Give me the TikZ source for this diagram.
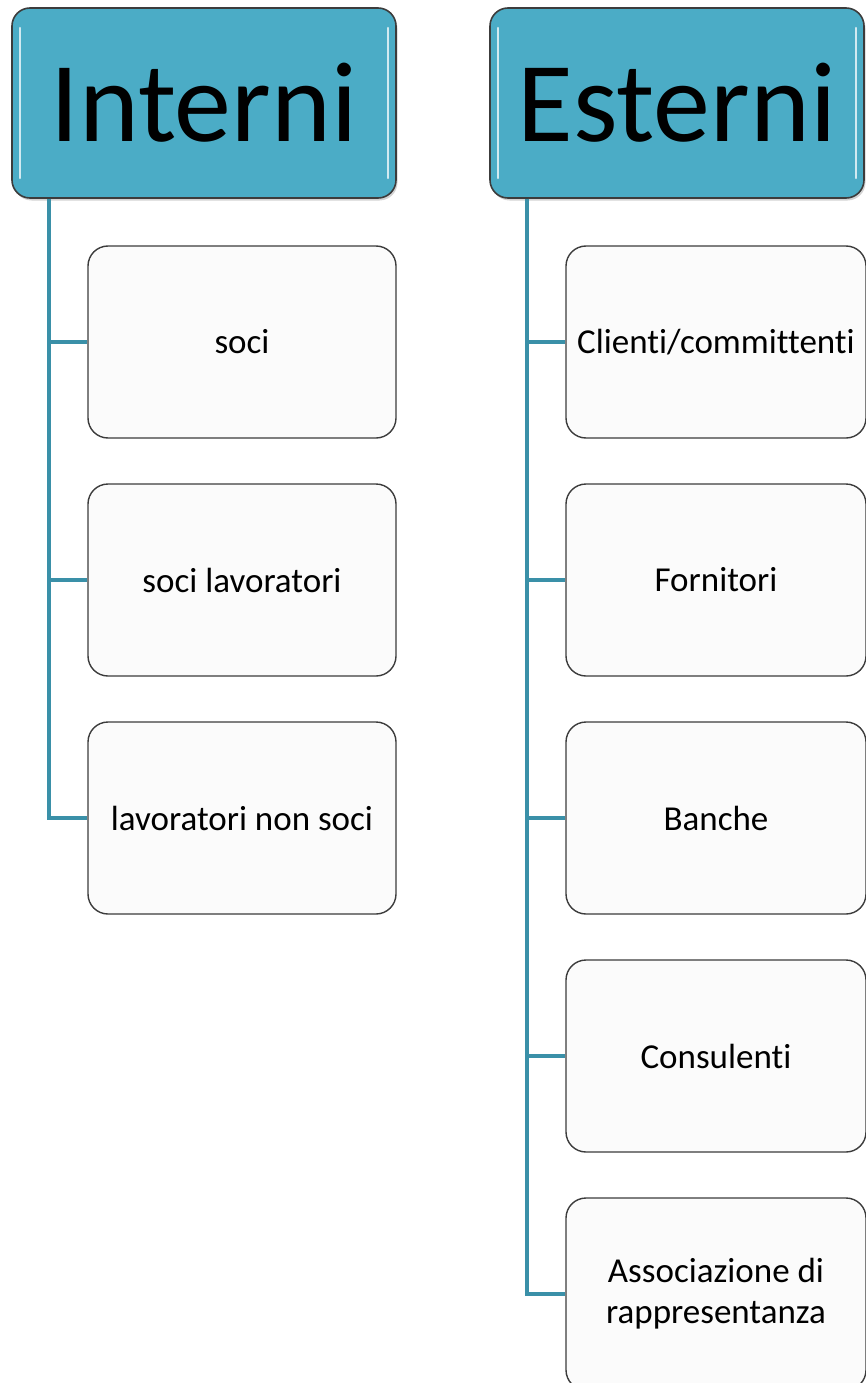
\documentclass[tikz,border=0pt]{standalone}
\usepackage{fontspec}
\setmainfont{Carlito}[Ligatures=NoCommon]
\usetikzlibrary{shadows}

\definecolor{headblue}{HTML}{4BACC6}
\definecolor{linkblue}{HTML}{3A90A8}
\definecolor{boxline}{HTML}{3C3C3C}
\definecolor{boxfill}{HTML}{FBFBFB}

\begin{document}
\begin{tikzpicture}[x=1pt,y=-1pt,
  head/.style={draw=boxline,line width=1.6pt,fill=headblue,rectangle,rounded corners=18pt,
    minimum height=190pt,inner sep=0pt,font=\fontsize{114}{120}\selectfont,
    drop shadow={shadow xshift=1.5pt,shadow yshift=-2.5pt,opacity=0.35},
    path picture={
      \draw[white!75!headblue,line width=2.5pt,line cap=round]
        ([xshift=8pt,yshift=-20pt]path picture bounding box.north west) --
        ([xshift=8pt,yshift=20pt]path picture bounding box.south west)
        ([xshift=-8pt,yshift=-20pt]path picture bounding box.north east) --
        ([xshift=-8pt,yshift=20pt]path picture bounding box.south east);}},
  item/.style={draw=boxline,line width=1.4pt,fill=boxfill,rectangle,rounded corners=20pt,
    minimum height=192pt,inner sep=2pt,align=center,
    font=\fontsize{35}{41}\selectfont},
  link/.style={draw=linkblue,line width=3.5pt}]
\useasboundingbox (0,0) rectangle (866,1383);

% column headers
\node[head,minimum width=384pt] (int) at (204,103) {Interni};
\node[head,minimum width=374pt] (est) at (677,103) {Esterni};

% internal stakeholders
\node[item,minimum width=308pt] (soci) at (242,342) {soci};
\node[item,minimum width=308pt] (socilav) at (242,580) {soci lavoratori};
\node[item,minimum width=308pt] (lavnon) at (242,818) {lavoratori non soci};

% external stakeholders
\node[item,minimum width=300pt] (clienti) at (716,342) {Clienti/committenti};
\node[item,minimum width=300pt] (fornitori) at (716,580) {Fornitori};
\node[item,minimum width=300pt] (banche) at (716,818) {Banche};
\node[item,minimum width=300pt] (consulenti) at (716,1056) {Consulenti};
\node[item,minimum width=300pt] (assoc) at (716,1294) {Associazione di\\rappresentanza};

% tree connectors
\draw[link] ([xshift=38pt]int.south west) |- (soci.west);
\draw[link] ([xshift=38pt]int.south west) |- (socilav.west);
\draw[link] ([xshift=38pt]int.south west) |- (lavnon.west);

\draw[link] ([xshift=38pt]est.south west) |- (clienti.west);
\draw[link] ([xshift=38pt]est.south west) |- (fornitori.west);
\draw[link] ([xshift=38pt]est.south west) |- (banche.west);
\draw[link] ([xshift=38pt]est.south west) |- (consulenti.west);
\draw[link] ([xshift=38pt]est.south west) |- (assoc.west);
\end{tikzpicture}
\end{document}
